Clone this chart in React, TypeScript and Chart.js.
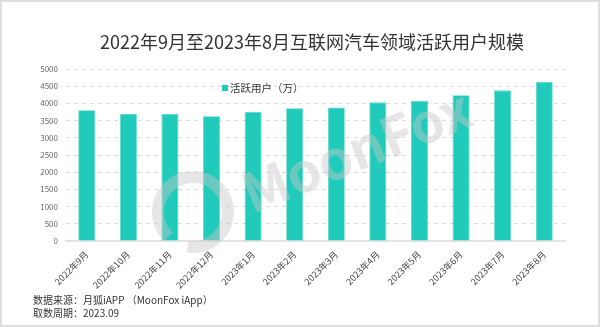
import React, { useEffect, useRef } from "react";
import { Chart, registerables } from "chart.js";

Chart.register(...registerables);

const categories = [
  "2022年9月", "2022年10月", "2022年11月", "2022年12月",
  "2023年1月", "2023年2月", "2023年3月", "2023年4月",
  "2023年5月", "2023年6月", "2023年7月", "2023年8月",
];
const activeUsers = [3800, 3700, 3690, 3630, 3750, 3860, 3880, 4030, 4080, 4240, 4380, 4620];
const seriesLabel = "活跃用户（万）";
const titleText = "2022年9月至2023年8月互联网汽车领域活跃用户规模";
const sourceLine = "数据来源：月狐iAPP （MoonFox iApp）";
const periodLine = "取数周期：2023.09";
const watermarkText = "MoonFox";

const FONT = '"Noto Sans CJK SC", "Noto Sans", sans-serif';
const BAR = "#21CBBB";

const legendPlugin = {
  id: "customLegend",
  afterDraw(chart: any) {
    const ctx = chart.ctx;
    const ds = chart.data.datasets[0];
    ctx.save();
    ctx.fillStyle = ds.backgroundColor;
    ctx.fillRect(222, 85, 6, 6);
    ctx.fillStyle = "#333";
    ctx.font = `10.5px ${FONT}`;
    ctx.textBaseline = "middle";
    ctx.textAlign = "left";
    ctx.fillText(ds.label, 230, 88);
    ctx.restore();
  },
};

const watermarkPlugin = {
  id: "watermark",
  afterDatasetsDraw(chart: any) {
    const ctx = chart.ctx;
    ctx.save();
    ctx.globalAlpha = 0.45;
    ctx.strokeStyle = "#c8c8c8";
    ctx.fillStyle = "#c8c8c8";
    ctx.lineWidth = 12;
    ctx.beginPath();
    ctx.arc(193, 212, 35, Math.PI * 0.75, Math.PI * 2.55);
    ctx.stroke();
    ctx.translate(252, 214);
    ctx.rotate(-0.38);
    ctx.font = `bold 54px ${FONT}`;
    ctx.textBaseline = "alphabetic";
    ctx.fillText(watermarkText, 0, 0);
    ctx.restore();
  },
};

export default function App() {
  const ref = useRef<HTMLCanvasElement | null>(null);

  useEffect(() => {
    document.body.style.margin = "0";
    const canvas = ref.current;
    if (!canvas) return;
    const chart = new Chart(canvas, {
      type: "bar",
      data: {
        labels: categories,
        datasets: [
          {
            label: seriesLabel,
            data: activeUsers,
            backgroundColor: BAR,
            borderColor: "#5ad8cc",
            borderWidth: 0.8,
            categoryPercentage: 1,
            barPercentage: 0.41,
          },
        ],
      },
      options: {
        responsive: false,
        animation: false,
        layout: { padding: { top: 69, right: 35, left: 0, bottom: 0 } },
        plugins: {
          legend: { display: false },
          title: { display: false },
          tooltip: { enabled: false },
        },
        scales: {
          x: {
            afterFit: (s: any) => { s.height = 86; },
            grid: { display: false, drawTicks: false },
            border: { display: true, color: "#e3e3e3", width: 2 },
            ticks: {
              minRotation: 45,
              maxRotation: 45,
              autoSkip: false,
              padding: 8,
              color: "#444",
              font: { family: FONT, size: 9 },
            },
          },
          y: {
            min: 0,
            max: 5000,
            afterFit: (s: any) => { s.width = 66; },
            grid: { color: "#dcdcdc", drawTicks: false, lineWidth: 1 },
            border: { display: false, dash: [4, 4] },
            ticks: {
              stepSize: 500,
              padding: 8,
              color: "#666",
              font: { family: FONT, size: 8 },
              callback: (v: any) => String(v),
            },
          },
        },
      },
      plugins: [watermarkPlugin, legendPlugin],
    });
    return () => chart.destroy();
  }, []);

  return (
    <div style={{ position: "relative", width: 600, height: 327, background: "#fff", overflow: "hidden" }}>
      <canvas ref={ref} width={600} height={327} style={{ position: "absolute", left: 0, top: 0 }} />
      <div
        style={{
          position: "absolute",
          left: 312,
          top: 32,
          transform: "translateX(-50%)",
          whiteSpace: "nowrap",
          fontFamily: FONT,
          fontSize: 18,
          lineHeight: "18px",
          color: "#333",
        }}
      >
        {titleText}
      </div>
      <div
        style={{
          position: "absolute",
          left: 33,
          top: 294,
          whiteSpace: "nowrap",
          fontFamily: FONT,
          fontSize: 10,
          lineHeight: "12.5px",
          color: "#333",
        }}
      >
        <div>{sourceLine}</div>
        <div>{periodLine}</div>
      </div>
      <div
        style={{
          position: "absolute",
          left: 0,
          top: 0,
          width: 600,
          height: 327,
          boxSizing: "border-box",
          border: "2px solid #dedede",
          pointerEvents: "none",
        }}
      />
    </div>
  );
}
